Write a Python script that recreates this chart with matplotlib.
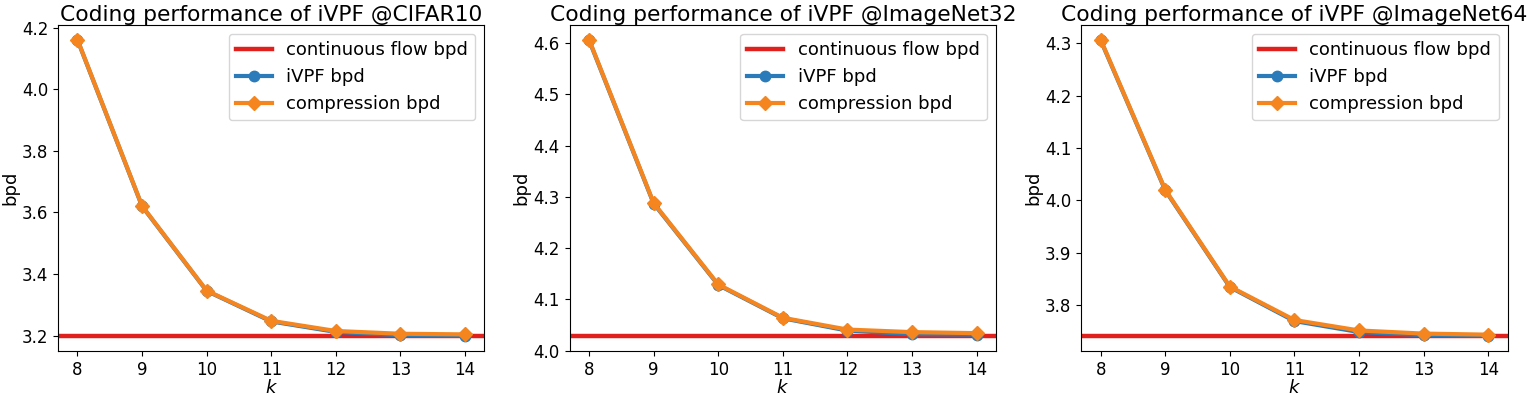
import matplotlib
matplotlib.use('Agg')
import matplotlib.pyplot as plt

# k values
k = [8, 9, 10, 11, 12, 13, 14]

datasets = ['CIFAR10', 'ImageNet32', 'ImageNet64']

# continuous flow bpd (horizontal line)
flow_bpd = [3.198, 4.028, 3.740]

# iVPF bpd
ivpf_cifar10 = [4.160, 3.620, 3.345, 3.246, 3.212, 3.201, 3.200]
ivpf_imagenet32 = [4.606, 4.287, 4.128, 4.063, 4.039, 4.032, 4.031]
ivpf_imagenet64 = [4.306, 4.019, 3.834, 3.769, 3.748, 3.742, 3.741]

# compression bpd
comp_cifar10 = [4.161, 3.621, 3.346, 3.248, 3.215, 3.206, 3.204]
comp_imagenet32 = [4.607, 4.288, 4.129, 4.064, 4.041, 4.036, 4.034]
comp_imagenet64 = [4.307, 4.020, 3.835, 3.771, 3.751, 3.745, 3.743]

ivpf = [ivpf_cifar10, ivpf_imagenet32, ivpf_imagenet64]
comp = [comp_cifar10, comp_imagenet32, comp_imagenet64]

fig, axes = plt.subplots(1, 3, figsize=(15.29, 3.94), dpi=100)
plt.subplots_adjust(left=0.038, right=0.986, bottom=0.109, top=0.937, wspace=0.2)

for i, ax in enumerate(axes):
    ax.axhline(flow_bpd[i], color='#e0201c', linewidth=3.2, label='continuous flow bpd')
    ax.plot(k, ivpf[i], marker='o', color='#2b7bba', linewidth=3, markersize=7.5, label='iVPF bpd')
    ax.plot(k, comp[i], marker='D', color='#f5861f', linewidth=3, markersize=7.5, label='compression bpd')
    ax.set_title('Coding performance of iVPF @' + datasets[i], fontsize=15.7, pad=3)
    ax.set_xlabel('$k$', fontsize=13, labelpad=0)
    ax.set_ylabel('bpd', fontsize=13, labelpad=2)
    ax.tick_params(labelsize=12)
    ax.legend(loc='upper right', fontsize=13)

plt.savefig('out.png')
